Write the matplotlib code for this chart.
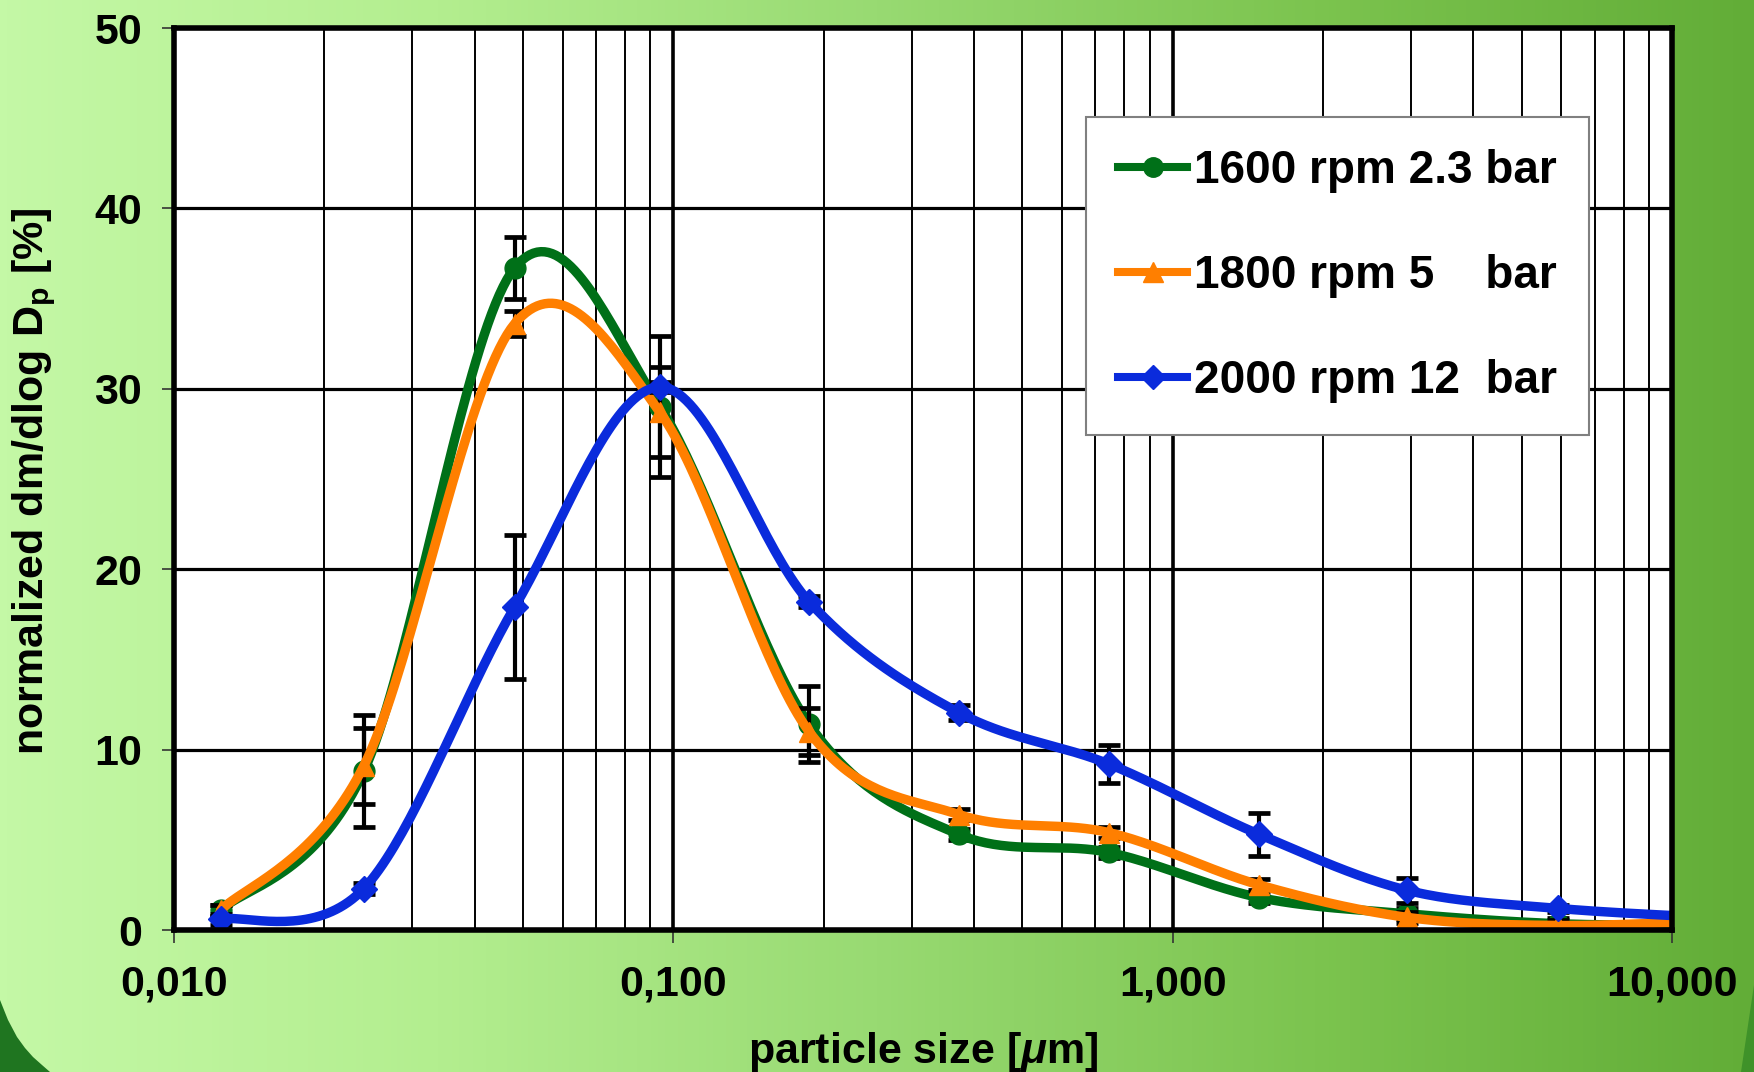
import numpy as np
import matplotlib
matplotlib.use("Agg")
import matplotlib.pyplot as plt
from matplotlib import ticker
from matplotlib.colors import LinearSegmentedColormap
from matplotlib.patches import Polygon

plt.rcParams['font.family'] = ['Liberation Sans', 'DejaVu Sans']
plt.rcParams['font.weight'] = 'bold'
plt.rcParams['mathtext.fontset'] = 'custom'
plt.rcParams['mathtext.rm'] = 'Liberation Sans:bold'
plt.rcParams['mathtext.bf'] = 'Liberation Sans:bold'
plt.rcParams['mathtext.it'] = 'Liberation Sans:bold:italic'

# particle size classes [um] (last one lies just past the axis end)
sizes = [0.0124, 0.0240, 0.0481, 0.0940, 0.187, 0.373, 0.745, 1.49, 2.95, 5.90, 11.8]

labels = ["1600 rpm 2.3 bar", "1800 rpm 5    bar", "2000 rpm 12  bar"]
colors = ["#007018", "#ff7f00", "#0a2bdc"]
markers = ["o", "^", "D"]

green = [1.1, 8.8, 36.7, 29.0, 11.4, 5.3, 4.3, 1.8, 0.9, 0.35, 0.25]
orange = [1.1, 9.1, 33.6, 28.7, 11.0, 6.4, 5.4, 2.5, 0.7, 0.25, 0.5]
blue = [0.6, 2.3, 17.9, 30.1, 18.2, 12.05, 9.2, 5.3, 2.2, 1.2, 0.7]

green_err = [0.3, 3.1, 1.7, 3.9, 2.1, 0.3, 0.3, 0.3, 0.3, 0.3, 0.0]
orange_err = [0.3, 2.1, 0.7, 2.5, 1.3, 0.3, 0.3, 0.3, 0.3, 0.3, 0.0]
blue_err = [0.3, 0.3, 4.0, 0.3, 0.3, 0.4, 1.05, 1.2, 0.7, 0.2, 0.0]

series = [green, orange, blue]
errors = [green_err, orange_err, blue_err]


def smooth(x, y, n=40):
    # Bezier smoothing through the points, done in log-x space
    u = np.log10(np.asarray(x, float))
    v = np.asarray(y, float)
    P = np.column_stack([u, v])
    Pe = np.vstack([P[0], P, P[-1]])
    t = np.linspace(0, 1, n)[:, None]
    out = []
    for i in range(len(P) - 1):
        p0, p1 = Pe[i + 1], Pe[i + 2]
        c1 = p0 + (Pe[i + 2] - Pe[i]) / 6.0
        c2 = p1 - (Pe[i + 3] - Pe[i + 1]) / 6.0
        seg = ((1 - t) ** 3) * p0 + 3 * ((1 - t) ** 2) * t * c1 \
            + 3 * (1 - t) * t ** 2 * c2 + t ** 3 * p1
        out.append(seg if i == 0 else seg[1:])
    out = np.vstack(out)
    return 10 ** out[:, 0], out[:, 1]


fig = plt.figure(figsize=(17.54, 10.72), dpi=100)
W, H = 1754.0, 1072.0

# green gradient backdrop
bg = fig.add_axes([0, 0, 1, 1], zorder=-10)
bg.axis('off')
cmap = LinearSegmentedColormap.from_list(
    'bg', ['#c4f8a6', '#b3ee8f', '#98da72', '#7cc44f', '#62ad37'])
bg.imshow(np.linspace(0, 1, 512)[None, :], aspect='auto', cmap=cmap,
          extent=[0, 1, 0, 1])
bg.set_xlim(0, 1)
bg.set_ylim(0, 1)
corner = [(0, 1000), (8, 1020), (17, 1037), (25, 1048), (33, 1057),
          (42, 1065), (50, 1072), (0, 1072)]
bg.add_patch(Polygon([(px / W, 1 - py / H) for px, py in corner],
                     closed=True, color='#1f7520', lw=0))
corner_r = [(1754, 985), (1741, 1072), (1754, 1072)]
bg.add_patch(Polygon([(px / W, 1 - py / H) for px, py in corner_r],
                     closed=True, color='#3f9229', lw=0))

ax = fig.add_axes([174 / W, 1 - 930 / H, 1498 / W, 902 / H])
ax.set_facecolor('white')
ax.set_xscale('log')
ax.set_xlim(0.01, 10)
ax.set_ylim(0, 50)

ax.xaxis.set_major_locator(ticker.FixedLocator([0.01, 0.1, 1, 10]))
ax.xaxis.set_major_formatter(
    ticker.FuncFormatter(lambda v, p: f"{v:.3f}".replace('.', ',')))
ax.xaxis.set_minor_locator(ticker.LogLocator(base=10, subs=range(2, 10)))
ax.xaxis.set_minor_formatter(ticker.NullFormatter())
ax.yaxis.set_major_locator(ticker.MultipleLocator(10))

ax.grid(which='major', axis='y', color='black', lw=2.3)
ax.grid(which='major', axis='x', color='black', lw=2.6)
ax.grid(which='minor', axis='x', color='black', lw=1.4)
ax.set_axisbelow(True)

for s in ax.spines.values():
    s.set_linewidth(4.0)
    s.set_zorder(20)

ax.tick_params(axis='both', which='major', labelsize=31, width=1.2,
               length=9, direction='out', color='#333333')
ax.tick_params(axis='y', pad=14)
ax.tick_params(axis='x', pad=16)
ax.tick_params(axis='x', which='minor', length=0)

handles = []
for k, (vals, err) in enumerate(zip(series, errors)):
    z = 3 + 3 * k
    msize = 15 if markers[k] != 'D' else 13
    ax.errorbar(sizes, vals, yerr=err, fmt='none', ecolor='black',
                elinewidth=3.0, capsize=8, capthick=3.4, zorder=z)
    xs, ys = smooth(sizes, vals)
    ax.plot(xs, ys, color=colors[k], lw=6.8, solid_capstyle='round',
            zorder=z + 1)
    ax.plot(sizes, vals, ls='none', marker=markers[k], markersize=msize,
            color=colors[k], zorder=z + 2)
    h, = ax.plot([], [], color=colors[k], lw=5.8, marker=markers[k],
                 markersize=msize - 1)
    handles.append(h)

leg = ax.legend(handles, labels, loc='upper left',
                bbox_to_anchor=(0.609, 0.901), fontsize=33,
                frameon=True, fancybox=False, framealpha=1,
                edgecolor='#808080', borderpad=0.7, labelspacing=1.33,
                handlelength=1.5, handletextpad=0.15, borderaxespad=0)
leg.get_frame().set_linewidth(1.5)
leg.set_zorder(30)

fig.text(923 / W, 1 - 1052 / H, r"particle size [$\mathit{\mu}$m]",
         fontsize=31, fontweight='bold', ha='center', va='center')
fig.text(34 / W, 1 - 481 / H, r"normalized dm/dlog D$_{\mathbf{p}}$ [%]",
         fontsize=31, fontweight='bold', ha='center', va='center',
         rotation=90)

fig.savefig("out.png", dpi=100)
